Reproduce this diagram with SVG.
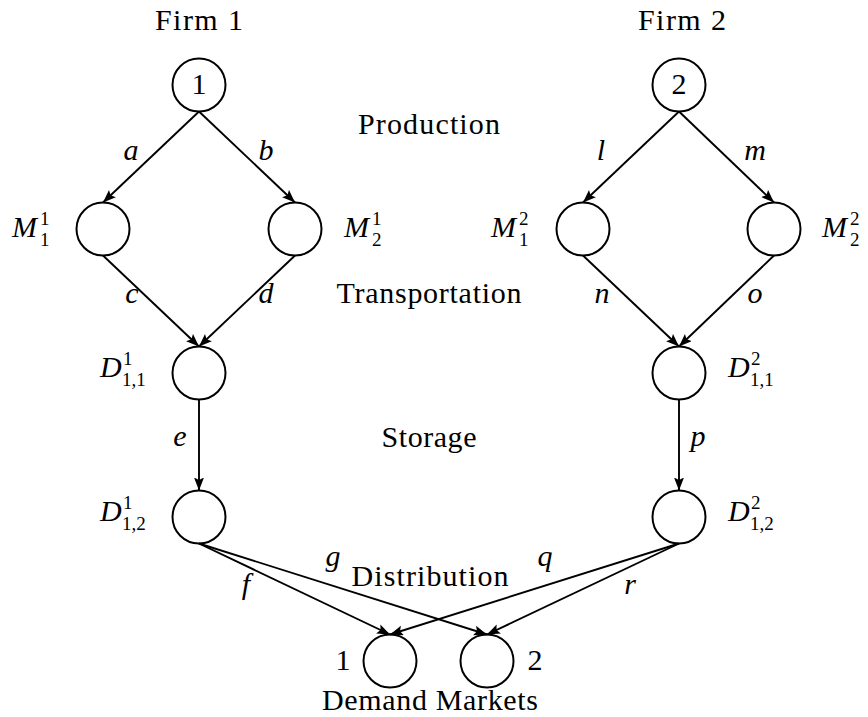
<svg xmlns="http://www.w3.org/2000/svg" width="868" height="717" viewBox="0 0 868 717">
<style>
  .node circle { fill: none; stroke: #000; stroke-width: 2; }
  .edge { stroke: #000; stroke-width: 1.9; fill: none; marker-end: url(#arr); }
  text { font-size: 30px; fill: #000; }
  .it { font-style: italic; }
  .sm { font-size: 19px; font-style: normal; }
  .c { text-anchor: middle; }
</style>
<defs>
  <marker id="arr" markerUnits="userSpaceOnUse" markerWidth="15" markerHeight="11" refX="13" refY="5" orient="auto">
    <path d="M0,0 L13,5 L0,10 L2.5,5 Z" fill="#000"/>
  </marker>
</defs>
<rect width="868" height="717" fill="#fff"/>
<g font-family="Liberation Serif, DejaVu Serif, Times New Roman, serif">

<g id="labels">
  <text x="199" y="30" class="c" textLength="88" lengthAdjust="spacing">Firm 1</text>
  <text x="682" y="30" class="c" textLength="88" lengthAdjust="spacing">Firm 2</text>
  <text x="429" y="134" class="c" textLength="142" lengthAdjust="spacing">Production</text>
  <text x="429" y="303" class="c" textLength="185" lengthAdjust="spacing">Transportation</text>
  <text x="429" y="447" class="c" textLength="95" lengthAdjust="spacing">Storage</text>
  <text x="430" y="586" class="c" textLength="157" lengthAdjust="spacing">Distribution</text>
  <text x="430" y="710" class="c" textLength="216" lengthAdjust="spacing">Demand Markets</text>
</g>

<g id="connectors">
  <line class="edge" x1="199" y1="111.5" x2="103" y2="202.5"/>
  <line class="edge" x1="199" y1="111.5" x2="295" y2="202.5"/>
  <line class="edge" x1="103" y1="255.5" x2="199" y2="346.5"/>
  <line class="edge" x1="295" y1="255.5" x2="199" y2="346.5"/>
  <line class="edge" x1="199" y1="399.5" x2="199" y2="490.5"/>
  <line class="edge" x1="679" y1="111.5" x2="583" y2="202.5"/>
  <line class="edge" x1="679" y1="111.5" x2="774" y2="202.5"/>
  <line class="edge" x1="583" y1="255.5" x2="679" y2="346.5"/>
  <line class="edge" x1="774" y1="255.5" x2="679" y2="346.5"/>
  <line class="edge" x1="679" y1="399.5" x2="679" y2="490.5"/>
  <line class="edge" x1="199" y1="543.5" x2="390" y2="634.5"/>
  <line class="edge" x1="199" y1="543.5" x2="487" y2="634.5"/>
  <line class="edge" x1="679" y1="543.5" x2="390" y2="634.5"/>
  <line class="edge" x1="679" y1="543.5" x2="487" y2="634.5"/>
  <text class="it c" x="131" y="160">a</text>
  <text class="it c" x="266" y="160">b</text>
  <text class="it c" x="132" y="303">c</text>
  <text class="it c" x="266" y="303">d</text>
  <text class="it c" x="180" y="446">e</text>
  <text class="it c" x="601" y="160">l</text>
  <text class="it c" x="755" y="160">m</text>
  <text class="it c" x="602" y="303">n</text>
  <text class="it c" x="755" y="303">o</text>
  <text class="it c" x="698" y="446">p</text>
  <text class="it c" x="246" y="594">f</text>
  <text class="it c" x="333" y="566">g</text>
  <text class="it c" x="545" y="566">q</text>
  <text class="it c" x="630" y="594">r</text>
</g>

<g id="firm1" class="node">
  <circle cx="199" cy="85" r="26.5"/>
  <text x="199" y="94" class="c">1</text>
</g>
<g id="firm2" class="node">
  <circle cx="679" cy="85" r="26.5"/>
  <text x="679" y="94" class="c">2</text>
</g>

<g id="M11" class="node">
  <circle cx="103" cy="229" r="26.5"/>
  <text x="12" y="237" class="it">M</text>
  <text x="40" y="225" class="sm">1</text>
  <text x="40" y="246" class="sm">1</text>
</g>
<g id="M21" class="node">
  <circle cx="295" cy="229" r="26.5"/>
  <text x="344" y="237" class="it">M</text>
  <text x="372" y="225" class="sm">1</text>
  <text x="372" y="246" class="sm">2</text>
</g>
<g id="M12" class="node">
  <circle cx="583" cy="229" r="26.5"/>
  <text x="491" y="237" class="it">M</text>
  <text x="519" y="225" class="sm">2</text>
  <text x="519" y="246" class="sm">1</text>
</g>
<g id="M22" class="node">
  <circle cx="774" cy="229" r="26.5"/>
  <text x="822" y="237" class="it">M</text>
  <text x="850" y="225" class="sm">2</text>
  <text x="850" y="246" class="sm">2</text>
</g>

<g id="D11" class="node">
  <circle cx="199" cy="373" r="26.5"/>
  <text x="100" y="377" class="it">D</text>
  <text x="123" y="365" class="sm">1</text>
  <text x="122" y="386" class="sm">1,1</text>
</g>
<g id="D12" class="node">
  <circle cx="199" cy="517" r="26.5"/>
  <text x="100" y="521" class="it">D</text>
  <text x="123" y="509" class="sm">1</text>
  <text x="122" y="530" class="sm">1,2</text>
</g>
<g id="D21" class="node">
  <circle cx="679" cy="373" r="26.5"/>
  <text x="728" y="377" class="it">D</text>
  <text x="751" y="365" class="sm">2</text>
  <text x="750" y="386" class="sm">1,1</text>
</g>
<g id="D22" class="node">
  <circle cx="679" cy="517" r="26.5"/>
  <text x="728" y="521" class="it">D</text>
  <text x="751" y="509" class="sm">2</text>
  <text x="750" y="530" class="sm">1,2</text>
</g>

<g id="market1" class="node">
  <circle cx="390" cy="661" r="26.5"/>
  <text x="343" y="670" class="c">1</text>
</g>
<g id="market2" class="node">
  <circle cx="487" cy="661" r="26.5"/>
  <text x="535" y="670" class="c">2</text>
</g>
</g>
</svg>
